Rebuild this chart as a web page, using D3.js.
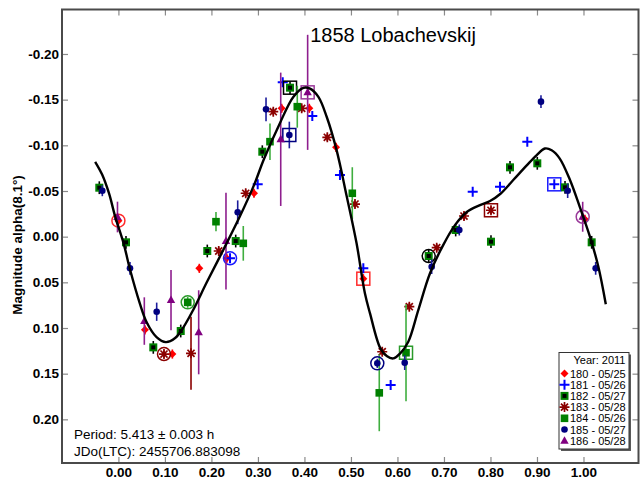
<!DOCTYPE html>
<html><head><meta charset="utf-8">
<script src="https://cdn.jsdelivr.net/npm/d3@7"></script>
<style>body{margin:0;background:#fff;} svg{display:block;font-family:"Liberation Sans",Arial,sans-serif;}</style>
</head><body><svg width="640" height="480"></svg>
<script>
// ---------------- data ----------------
const title = "1858 Lobachevskij";
const yLabel = "Magnitude alpha(8.1°)";
const xTicks = [0.0,0.1,0.2,0.3,0.4,0.5,0.6,0.7,0.8,0.9,1.0];
const yTicks = [-0.20,-0.15,-0.10,-0.05,0.00,0.05,0.10,0.15,0.20];
const legendTitle = "Year: 2011";
const seriesLabels = ["180 - 05/25","181 - 05/26","182 - 05/27","183 - 05/28","184 - 05/26","185 - 05/27","186 - 05/28"];
const periodText = "Period: 5.413 ± 0.003 h";
const jdText = "JDo(LTC): 2455706.883098";

// [phase, magnitude, error, mark]  mark: "c" = ringed, "s" = boxed
const s180 = [[0.000,-0.0175,0.005,"c"],[0.057,0.102,0.005,""],[0.116,0.1285,0.005,""],[0.174,0.0347,0.005,""],
  [0.233,0.0237,0.005,""],[0.2915,-0.0475,0.005,""],[0.351,-0.1405,0.005,""],[0.4105,-0.1405,0.005,""],
  [0.468,-0.0978,0.005,""],[0.5266,0.046,0.005,"s"],[1.003,-0.019,0.005,""]];
const s181 = [[0.240,0.0237,0,"c"],[0.2995,-0.0573,0,""],[0.3533,-0.169,0,""],[0.4169,-0.1321,0,""],
  [0.4764,-0.0675,0,""],[0.5266,0.0347,0,""],[0.5854,0.1624,0,""],[0.7618,-0.0492,0,""],
  [0.8205,-0.0547,0,""],[0.8792,-0.104,0,""],[0.9372,-0.0573,0,"s"]];
const s182 = [[-0.0411,-0.0536,0.007,""],[0.0163,0.0062,0.007,""],[0.075,0.1212,0.007,""],[0.134,0.1033,0.007,""],
  [0.1911,0.0157,0.007,""],[0.2522,0.0048,0.007,""],[0.3094,-0.093,0.007,""],[0.369,-0.1631,0.007,"s"],
  [0.6672,0.0212,0.007,"c"],[0.7252,-0.0073,0.007,""],[0.8011,0.0055,0.007,""],[0.842,-0.0759,0.007,""],
  [0.9007,-0.0803,0.007,""],[0.9603,-0.054,0.007,""],[1.0176,0.0062,0.007,""]];
const s183 = [[0.098,0.1285,0.004,"c"],[0.1561,0.1277,0.040,""],[0.2157,0.0157,0.004,""],[0.2737,-0.0475,0.004,""],
  [0.333,-0.1368,0.004,""],[0.3941,-0.1405,0.004,""],[0.4492,-0.1088,0.004,""],[0.5087,-0.0357,0.004,""],
  [0.5673,0.126,0.004,""],[0.6255,0.0767,0.004,""],[0.6844,0.0121,0.004,""],[0.7431,-0.0226,0.004,""],
  [0.8011,-0.0289,0.004,"s"]];
const s184 = [[0.149,0.0719,0.006,"c"],[0.2098,-0.0164,0.0105,""],[0.2685,0.0073,0.019,""],[0.3259,-0.104,0.020,""],
  [0.3846,-0.1423,0.023,""],[0.5029,-0.0475,0.0285,""],[0.5609,0.171,0.042,""],[0.6184,0.1271,0.053,"s"]];
const s185 = [[-0.0346,-0.0503,0.006,""],[0.0249,0.0347,0.007,""],[0.0823,0.0822,0.010,""],[0.2565,-0.0267,0.013,""],
  [0.3174,-0.1394,0.013,""],[0.3675,-0.1113,0.0146,"s"],[0.5567,0.1387,0.005,"c"],[0.6156,0.138,0.008,""],
  [0.6736,0.0329,0.008,""],[0.733,-0.0073,0.006,""],[0.9086,-0.1478,0.007,""],[0.966,-0.0503,0.008,""],
  [1.0262,0.0347,0.007,""]];
const s186 = [[-0.002,-0.0215,0.0168,""],[0.0557,0.0924,0.026,""],[0.1131,0.0694,0.033,""],[0.1726,0.1047,0.046,""],
  [0.2313,0.0048,0.053,""],[0.349,-0.1066,0.073,""],[0.4069,-0.158,0.063,"s"],[0.9983,-0.0218,0.0164,"c"]];

// Fourier fit curve [phase, magnitude]
const fitCurve = [[-0.050,-0.082],[-0.035,-0.068],[-0.020,-0.047],[-0.007,-0.022],[0.011,0.007],[0.025,0.036],
  [0.046,0.073],[0.061,0.094],[0.082,0.110],[0.102,0.1155],[0.122,0.111],[0.140,0.099],[0.161,0.080],
  [0.190,0.050],[0.226,0.014],[0.261,-0.022],[0.292,-0.057],[0.313,-0.085],[0.347,-0.124],[0.376,-0.153],
  [0.398,-0.163],[0.412,-0.162],[0.430,-0.153],[0.448,-0.131],[0.469,-0.095],[0.491,-0.044],[0.512,0.007],
  [0.530,0.062],[0.541,0.084],[0.563,0.122],[0.577,0.1307],[0.591,0.1333],[0.6055,0.128],[0.6233,0.115],
  [0.6448,0.0804],[0.670,0.040],[0.6986,0.009],[0.7237,-0.0126],[0.749,-0.027],[0.7775,-0.0345],[0.799,-0.039],
  [0.8215,-0.047],[0.849,-0.062],[0.878,-0.078],[0.899,-0.089],[0.917,-0.0965],[0.9316,-0.0946],[0.949,-0.0855],
  [0.971,-0.062],[0.992,-0.0326],[1.014,0.0002],[1.032,0.033],[1.048,0.074]];

const allSeries = [s180,s181,s182,s183,s184,s185,s186];

// ---------------- styles ----------------
const styles = [
  {shape:"diamond",  fill:"#ff0000", bar:"#ff0000", ring:"#ff2a2a"},
  {shape:"plus",     fill:"#0000ff", bar:"#0000ff", ring:"#1a1aff"},
  {shape:"sqdot",    fill:"#008000", bar:"#000000", ring:"#000000"},
  {shape:"asterisk", fill:"#8b0000", bar:"#8b0000", ring:"#8b0000"},
  {shape:"square",   fill:"#008000", bar:"#3fae3f", ring:"#2a9a2a"},
  {shape:"circle",   fill:"#000080", bar:"#1c1c9c", ring:"#000080"},
  {shape:"triangle", fill:"#800080", bar:"#8e1e8e", ring:"#9a3a9a"}
];

const svg = d3.select("svg");
const L = 62, R = 638.5, T = 9.5, B = 463;
const x = d3.scaleLinear().domain([-0.1213, 1.1183]).range([L, R]);
const y = d3.scaleLinear().domain([-0.2487, 0.2478]).range([T, B]);

function drawMarker(g, shape, color, cx, cy) {
  switch (shape) {
    case "diamond":
      g.append("path").attr("d", `M${cx},${cy-4}L${cx+4},${cy}L${cx},${cy+4}L${cx-4},${cy}Z`).attr("fill", color); break;
    case "plus":
      g.append("path").attr("d", `M${cx-5},${cy}H${cx+5}M${cx},${cy-5}V${cy+5}`).attr("stroke", color).attr("stroke-width", 2).attr("fill","none"); break;
    case "sqdot":
      g.append("rect").attr("x", cx-4).attr("y", cy-4).attr("width", 8).attr("height", 8).attr("fill", color);
      g.append("rect").attr("x", cx-2).attr("y", cy-2).attr("width", 4).attr("height", 4).attr("fill", "#000"); break;
    case "asterisk": {
      let d = "";
      [0,45,90,135].forEach(a => { const r = a*Math.PI/180, dx = 5*Math.cos(r), dy = 5*Math.sin(r);
        d += `M${cx-dx},${cy-dy}L${cx+dx},${cy+dy}`; });
      g.append("path").attr("d", d).attr("stroke", color).attr("stroke-width", 1.7).attr("fill","none"); break; }
    case "square":
      g.append("rect").attr("x", cx-3.8).attr("y", cy-3.8).attr("width", 7.6).attr("height", 7.6).attr("fill", color); break;
    case "circle":
      g.append("circle").attr("cx", cx).attr("cy", cy).attr("r", 3.3).attr("fill", color); break;
    case "triangle":
      g.append("path").attr("d", `M${cx},${cy-4.5}L${cx+4.2},${cy+3}L${cx-4.2},${cy+3}Z`).attr("fill", color); break;
  }
}

// axes (inward ticks on all four sides)
const tickCol = "#8a8a8a";
function styleAxis(g) {
  g.select(".domain").remove();
  g.selectAll(".tick line").attr("stroke", tickCol).attr("stroke-width", 1.2);
  g.selectAll(".tick text").attr("fill", "#000").attr("font-family", "'Liberation Sans', Arial, sans-serif")
    .attr("font-size", 13.5).attr("font-weight", "bold");
}
svg.append("g").attr("transform", `translate(0,${B})`)
  .call(d3.axisBottom(x).tickValues(xTicks).tickSizeInner(-6).tickSizeOuter(0).tickPadding(4.5).tickFormat(d3.format(".2f")))
  .call(styleAxis);
svg.append("g").attr("transform", `translate(0,${T})`)
  .call(d3.axisTop(x).tickValues(xTicks).tickSizeInner(-6).tickSizeOuter(0).tickFormat(""))
  .call(styleAxis);
svg.append("g").attr("transform", `translate(${L},0)`)
  .call(d3.axisLeft(y).tickValues(yTicks).tickSizeInner(-6).tickSizeOuter(0).tickPadding(3).tickFormat(d3.format(".2f")))
  .call(styleAxis);
svg.append("g").attr("transform", `translate(${R},0)`)
  .call(d3.axisRight(y).tickValues(yTicks).tickSizeInner(-6).tickSizeOuter(0).tickFormat(""))
  .call(styleAxis);
// d3 format gives "−" minus sign; replace with hyphen like reference
svg.selectAll(".tick text").text(function(){ return d3.select(this).text().replace("\u2212","-"); });

// frame
svg.append("rect").attr("x", L).attr("y", T).attr("width", R-L).attr("height", B-T)
  .attr("fill", "none").attr("stroke", "#4a4a4a").attr("stroke-width", 2);

// data
const plot = svg.append("g");
allSeries.forEach((s, i) => {
  const st = styles[i];
  const g = plot.append("g");
  s.forEach(p => {
    const cx = x(p[0]), cy = y(p[1]);
    if (p[2] > 0) {
      g.append("line").attr("x1", cx).attr("x2", cx).attr("y1", y(p[1]-p[2])).attr("y2", y(p[1]+p[2]))
        .attr("stroke", st.bar).attr("stroke-width", 1.6);
    }
    drawMarker(g, st.shape, st.fill, cx, cy);
    if (p[3] === "c") {
      g.append("circle").attr("cx", cx).attr("cy", cy).attr("r", 6.5).attr("fill", "none")
        .attr("stroke", st.ring).attr("stroke-width", 1.5);
    } else if (p[3] === "s") {
      g.append("rect").attr("x", cx-6.5).attr("y", cy-6.5).attr("width", 13).attr("height", 13).attr("fill", "none")
        .attr("stroke", st.ring).attr("stroke-width", 1.5);
    }
  });
});

// fit curve
svg.append("path").datum(fitCurve)
  .attr("d", d3.line().x(d => x(d[0])).y(d => y(d[1])).curve(d3.curveCatmullRom.alpha(0.5)))
  .attr("fill", "none").attr("stroke", "#000").attr("stroke-width", 2.4);

// title
svg.append("text").attr("x", 393).attr("y", 42).attr("text-anchor", "middle")
  .attr("font-size", 20).attr("fill", "#000").text(title);

// y label
svg.append("text").attr("transform", "translate(22,245) rotate(-90)").attr("text-anchor", "middle")
  .attr("font-size", 13.5).attr("font-weight", "bold").attr("fill", "#000").text(yLabel);

// period text
svg.append("text").attr("x", 74).attr("y", 438.5).attr("font-size", 13.5).attr("fill", "#000").text(periodText);
svg.append("text").attr("x", 74).attr("y", 455.5).attr("font-size", 13.5).attr("fill", "#000").text(jdText);

// legend
const lg = svg.append("g");
const lx = 559, ly = 352.5, lw = 70, lh = 96.5;
lg.append("rect").attr("x", lx+2).attr("y", ly+2).attr("width", lw).attr("height", lh).attr("fill", "#5a5a5a");
lg.append("rect").attr("x", lx).attr("y", ly).attr("width", lw).attr("height", lh).attr("fill", "#fff")
  .attr("stroke", "#333").attr("stroke-width", 1);
lg.append("text").attr("x", lx+lw-3.5).attr("y", ly+11.5).attr("text-anchor", "end").attr("font-size", 11)
  .attr("fill", "#000").text(legendTitle);
seriesLabels.forEach((lab, i) => {
  const cy = ly + 21 + i*11.2;
  drawMarker(lg, styles[i].shape, styles[i].fill, lx+5.5, cy);
  lg.append("text").attr("x", lx+11).attr("y", cy+4).attr("font-size", 11).attr("fill", "#000").text(lab);
});
</script></body></html>
